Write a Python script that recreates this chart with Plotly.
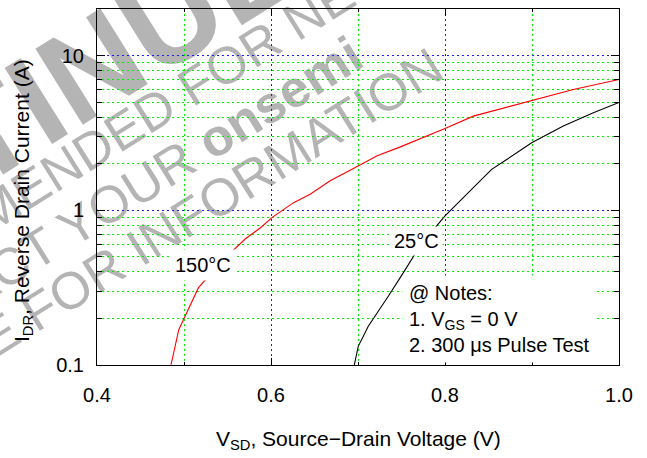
import plotly.graph_objects as go
import math

# ---------------- data ----------------
red_vsd = [0.485, 0.494, 0.503, 0.5165, 0.527, 0.552, 0.570, 0.589, 0.601, 0.626,
           0.645, 0.668, 0.6985, 0.722, 0.748, 0.775, 0.800, 0.8325, 0.8996, 0.9475, 1.000]
red_idr = [0.100, 0.169, 0.217, 0.315, 0.368, 0.520, 0.650, 0.780, 0.897, 1.12,
           1.27, 1.55, 1.91, 2.25, 2.56, 2.94, 3.38, 4.06, 5.13, 6.04, 7.00]

blk_vsd = [0.6957, 0.7003, 0.7118, 0.7233, 0.7348, 0.752, 0.7663, 0.7885, 0.800,
           0.8153, 0.8345, 0.8536, 0.871, 0.8996, 0.936, 0.9705, 1.000]
blk_idr = [0.100, 0.132, 0.178, 0.222, 0.278, 0.394, 0.530, 0.770, 0.920,
           1.12, 1.44, 1.84, 2.13, 2.73, 3.50, 4.27, 4.98]

x_major = [0.4, 0.6, 0.8, 1.0]
x_major_text = ["0.4", "0.6", "0.8", "1.0"]
y_major = [0.1, 1, 10]
y_major_text = ["0.1", "1", "10"]
y_minor = [0.2, 0.3, 0.4, 0.5, 0.6, 0.7, 0.8, 0.9, 2, 3, 4, 5, 6, 7, 8, 9]

curve_labels = ["150°C", "25°C"]
notes_lines = ["@ Notes:", "1. V<sub>GS</sub> = 0 V", "2. 300 μs Pulse Test"]
x_title = "V<sub>SD</sub>, Source−Drain Voltage (V)"
y_title = "I<sub>DR</sub>, Reverse Drain Current (A)"
watermark = ["DISCONTINUED", "NOT RECOMMENDED FOR NEW DESIGN",
             "CONTACT YOUR <b>onsemi</b>", "REPRESENTATIVE FOR INFORMATION"]

# ---------------- layout geometry ----------------
W, H = 647, 458
L, R, T, B = 97, 28, 9, 93
PW, PH = W - L - R, H - T - B
FONT = "Liberation Sans, Arial, sans-serif"


def px(x):
    return (x - L) / PW


def py(y):
    return (H - B - y) / PH


BLUE = "#1a1aff"
GREEN = "#00ee00"
DOT = "2px,3px"

fig = go.Figure()
fig.add_trace(go.Scatter(x=red_vsd, y=red_idr, mode="lines",
                         line=dict(color="#ff0000", width=1.1), showlegend=False))
fig.add_trace(go.Scatter(x=blk_vsd, y=blk_idr, mode="lines",
                         line=dict(color="#000000", width=1.1), showlegend=False))

# watermark: invisible paper shapes in the bottom layer carrying rotated labels
wm_color = "#b4b4b4"
wm_specs = [
    (watermark[0], -62, 148, 130, True),
    (watermark[1], 139, 114, 52, False),
    (watermark[2], 97, 206, 52, False),
    (watermark[3], 28, 311, 52, False),
]
shapes = []
for text, cx, cy, size, bold in wm_specs:
    shapes.append(dict(
        type="rect", xref="paper", yref="paper", layer="below",
        x0=px(cx - 0.5), x1=px(cx + 0.5), y0=py(cy + 0.5), y1=py(cy - 0.5),
        line=dict(width=0), fillcolor="rgba(0,0,0,0)",
        label=dict(text=("<b>%s</b>" % text) if bold else text,
                   textangle=-32, textposition="middle center",
                   font=dict(family=FONT, size=size, color=wm_color))))

annotations = []
# curve labels with white boxes
annotations.append(dict(text=curve_labels[0], x=0.522, y=-0.352, xref="x", yref="y",
                        showarrow=False, bgcolor="white", borderpad=4,
                        font=dict(family=FONT, size=20, color="black")))
annotations.append(dict(text=curve_labels[1], x=0.767, y=-0.201, xref="x", yref="y",
                        showarrow=False, bgcolor="white", borderpad=3,
                        font=dict(family=FONT, size=20, color="black")))
# notes
annotations.append(dict(text="<br>".join(notes_lines), xref="paper", yref="paper",
                        x=px(402), y=py(318.5), xanchor="left", yanchor="middle",
                        align="left", showarrow=False, bgcolor="white", borderpad=6,
                        font=dict(family=FONT, size=20, color="black")))
# axis titles
annotations.append(dict(text=x_title, xref="paper", yref="paper", x=px(358), y=py(440),
                        xanchor="center", yanchor="middle", showarrow=False,
                        font=dict(family=FONT, size=21, color="black")))
annotations.append(dict(text=y_title, xref="paper", yref="paper", x=px(23), y=py(201),
                        xanchor="center", yanchor="middle", showarrow=False, textangle=-90,
                        font=dict(family=FONT, size=21, color="black")))

fig.update_layout(
    width=W, height=H,
    margin=dict(l=L, r=R, t=T, b=B, autoexpand=False),
    paper_bgcolor="white", plot_bgcolor="rgba(0,0,0,0)",
    font=dict(family=FONT, size=20, color="black"),
    annotations=annotations,
    shapes=shapes,
    xaxis=dict(range=[0.4, 1.0], tickmode="array", tickvals=x_major, ticktext=x_major_text,
               ticks="inside", ticklen=7, tickcolor="black", tickwidth=1,
               showline=True, linecolor="black", linewidth=1, mirror="ticks",
               showgrid=True, gridcolor=BLUE, griddash=DOT, gridwidth=1,
               zeroline=False, tickfont=dict(size=20), ticklabelstandoff=12,
               minor=dict(tickmode="linear", tick0=0.5, dtick=0.2, ticks="inside", ticklen=3,
                          tickcolor="black", showgrid=True, gridcolor=GREEN,
                          griddash=DOT, gridwidth=1)),
    yaxis=dict(type="log", range=[-1, math.log10(20)], tickmode="array",
               tickvals=y_major, ticktext=y_major_text,
               ticks="inside", ticklen=8, tickcolor="black", tickwidth=1,
               showline=True, linecolor="black", linewidth=1, mirror="ticks",
               showgrid=True, gridcolor=BLUE, griddash=DOT, gridwidth=1,
               zeroline=False, tickfont=dict(size=20), ticklabelstandoff=8,
               minor=dict(tickmode="array", tickvals=y_minor, ticks="inside", ticklen=5,
                          tickcolor="black", showgrid=True, gridcolor=GREEN,
                          griddash=DOT, gridwidth=1)),
)

fig.write_html("out.html", config={"displayModeBar": False},
               post_script="document.body.style.margin='0';document.body.style.overflow='hidden';")
